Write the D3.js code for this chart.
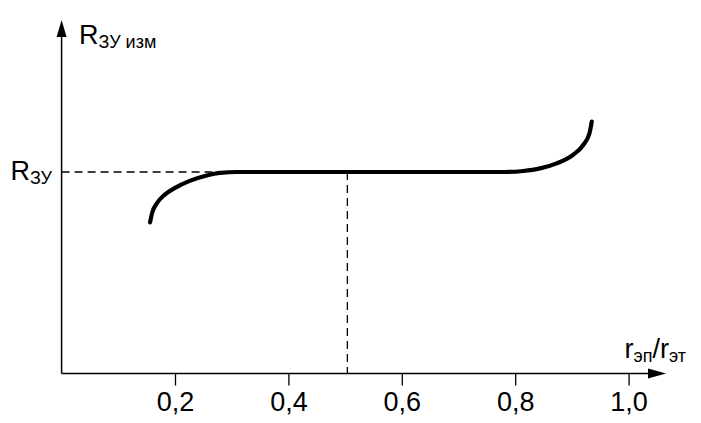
<!DOCTYPE html>
<html><head><meta charset="utf-8">
<script src="https://cdn.jsdelivr.net/npm/d3@7"></script>
<style>body{margin:0;background:#fff}svg{display:block}text{font-family:"Liberation Sans",Arial,sans-serif;fill:#000}</style>
</head><body>
<script>
// data
const curveX = [0.156,0.160,0.168,0.182,0.200,0.226,0.256,0.280,0.310,0.40,0.50,0.60,0.70,0.780,0.814,0.844,0.873,0.902,0.920,0.931,0.935];
const curveY = [0.750,0.800,0.845,0.888,0.921,0.956,0.983,0.996,1.000,1.0,1.0,1.0,1.0,1.000,1.005,1.018,1.043,1.085,1.134,1.192,1.250];
const xTicks = [0.2,0.4,0.6,0.8,1.0];
const xTickLabels = ["0,2","0,4","0,6","0,8","1,0"];
const refX = 0.504;   // dashed vertical
const refY = 1.0;     // R_ЗУ level
const xMaxArrow = 1.066, yMaxArrow = 1.754;

const W = 701, H = 423;
const svg = d3.select("body").append("svg").attr("width", W).attr("height", H);
const x = d3.scaleLinear().domain([0,1]).range([61.6, 628.6]);
const y = d3.scaleLinear().domain([0,1]).range([373.5, 172]);

// dashed reference lines
svg.append("line").attr("x1", x(0)).attr("x2", x(refX)).attr("y1", y(refY)).attr("y2", y(refY))
  .attr("stroke","#000").attr("stroke-width",1.3).attr("stroke-dasharray","8,5");
svg.append("line").attr("x1", x(refX)).attr("x2", x(refX)).attr("y1", y(refY)).attr("y2", y(0))
  .attr("stroke","#000").attr("stroke-width",1.3).attr("stroke-dasharray","8,5");

// axes
svg.append("line").attr("x1", x(0)).attr("x2", x(xMaxArrow)-14).attr("y1", y(0)).attr("y2", y(0))
  .attr("stroke","#000").attr("stroke-width",1.5);
svg.append("line").attr("x1", x(0)).attr("x2", x(0)).attr("y1", y(0)).attr("y2", y(yMaxArrow)+12)
  .attr("stroke","#000").attr("stroke-width",1.5);
const tx = x(xMaxArrow), ty = y(0);
svg.append("path").attr("d", `M${tx},${ty} L${tx-18},${ty-5} L${tx-18},${ty+5} Z`).attr("fill","#000");
const ax = x(0), ay = y(yMaxArrow);
svg.append("path").attr("d", `M${ax},${ay} L${ax-5},${ay+17} L${ax+5},${ay+17} Z`).attr("fill","#000");

// ticks
const xAxis = d3.axisBottom(x).tickValues(xTicks).tickSize(12).tickPadding(6)
  .tickFormat((d,i) => xTickLabels[i]);
const g = svg.append("g").attr("transform", `translate(0,${y(0)})`).call(xAxis);
g.select(".domain").remove();
g.selectAll(".tick line").attr("stroke","#000").attr("stroke-width",1.3);
g.selectAll(".tick text").attr("font-size",27).attr("font-family","Liberation Sans, Arial, sans-serif").attr("fill","#000");

// curve
const pts = curveX.map((d,i)=>[d, curveY[i]]);
const line = d3.line().x(d=>x(d[0])).y(d=>y(d[1])).curve(d3.curveMonotoneX);
svg.append("path").attr("d", line(pts)).attr("fill","none").attr("stroke","#000")
  .attr("stroke-width",4.2).attr("stroke-linecap","round").attr("stroke-linejoin","round");

// labels
const t1 = svg.append("text").attr("x", 79).attr("y", 44).attr("font-size",27);
t1.append("tspan").text("R");
t1.append("tspan").attr("font-size",18).attr("dy",4).text("ЗУ изм");

const t2 = svg.append("text").attr("x", 52).attr("y", y(refY)+8).attr("font-size",27).attr("text-anchor","end");
t2.append("tspan").text("R");
t2.append("tspan").attr("font-size",18).attr("dy",4).text("ЗУ");

const t3 = svg.append("text").attr("x", 686).attr("y", 358).attr("font-size",27).attr("text-anchor","end");
t3.append("tspan").text("r");
t3.append("tspan").attr("font-size",18).attr("dy",4).text("эп");
t3.append("tspan").attr("dy",-4).text("/r");
t3.append("tspan").attr("font-size",18).attr("dy",4).text("эт");
</script>
</body></html>
